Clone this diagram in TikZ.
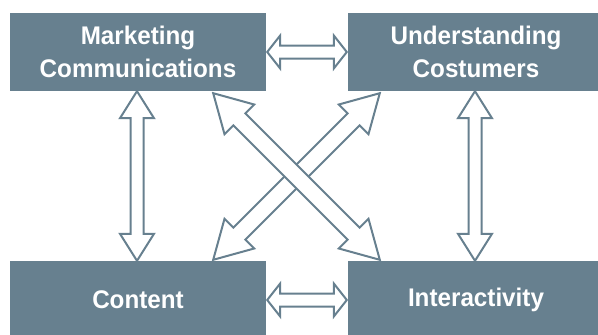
\documentclass[tikz,border=0pt]{standalone}
\usepackage{fontspec}
\setmainfont[FakeStretch=0.95]{Liberation Sans}
\usetikzlibrary{calc}
\definecolor{slate}{RGB}{103,128,143}
\tikzset{
  box/.style={fill=slate, draw=none, minimum width=256pt, minimum height=78pt,
    inner sep=0pt, text=white, align=center,
    font=\fontsize{25.5}{33}\selectfont\bfseries},
  blk/.style={draw=slate, line width=2pt, fill=white, line join=miter}
}
% #1 start, #2 end, #3 shaft half width, #4 head half width, #5 head length (pt)
\newcommand\blockarrow[5]{%
  \draw[blk] (#1)
    -- ($($(#1)!#5pt!(#2)$)!#4pt!90:(#2)$)
    -- ($($(#1)!#5pt!(#2)$)!#3pt!90:(#2)$)
    -- ($($(#2)!#5pt!(#1)$)!#3pt!-90:(#1)$)
    -- ($($(#2)!#5pt!(#1)$)!#4pt!-90:(#1)$)
    -- (#2)
    -- ($($(#2)!#5pt!(#1)$)!#4pt!90:(#1)$)
    -- ($($(#2)!#5pt!(#1)$)!#3pt!90:(#1)$)
    -- ($($(#1)!#5pt!(#2)$)!#3pt!-90:(#2)$)
    -- ($($(#1)!#5pt!(#2)$)!#4pt!-90:(#2)$)
    -- cycle;}
\begin{document}
\begin{tikzpicture}[x=1pt,y=-1pt]
\useasboundingbox (0,0) rectangle (598,335);
\node[box] (mc) at (138,52) {Marketing\\Communications};
\node[box] (uc) at (476,52) {Understanding\\Costumers};
\node[box] (ct) at (138,300) {Content};
\node[box] (ia) at (476,300) {Interactivity};
\coordinate (d1a) at ($(mc.south east)+(-53,2)$);
\coordinate (d1b) at ($(ia.north west)+(32,-1)$);
\coordinate (d2a) at ($(ct.north east)+(-53,-1)$);
\coordinate (d2b) at ($(uc.south west)+(32,2)$);
\coordinate (h1a) at ($(mc.east)+(1,0)$);
\coordinate (h1b) at ($(uc.west)+(-1,0)$);
\coordinate (h2a) at ($(ct.east)+(1,0)$);
\coordinate (h2b) at ($(ia.west)+(-1,0)$);
\coordinate (v1a) at ($(mc.south)+(-1,0)$);
\coordinate (v1b) at ($(ct.north)+(-1,0)$);
\coordinate (v2a) at ($(uc.south)+(-1,0)$);
\coordinate (v2b) at ($(ia.north)+(-1,0)$);
\blockarrow{h1a}{h1b}{6.5}{16.5}{13}
\blockarrow{h2a}{h2b}{6.5}{16.5}{13}
\blockarrow{v1a}{v1b}{6.5}{17}{27}
\blockarrow{v2a}{v2b}{6.5}{17}{27}
\blockarrow{d2a}{d2b}{8.5}{21}{37}
\blockarrow{d1a}{d1b}{8.5}{21}{37}
\end{tikzpicture}
\end{document}
